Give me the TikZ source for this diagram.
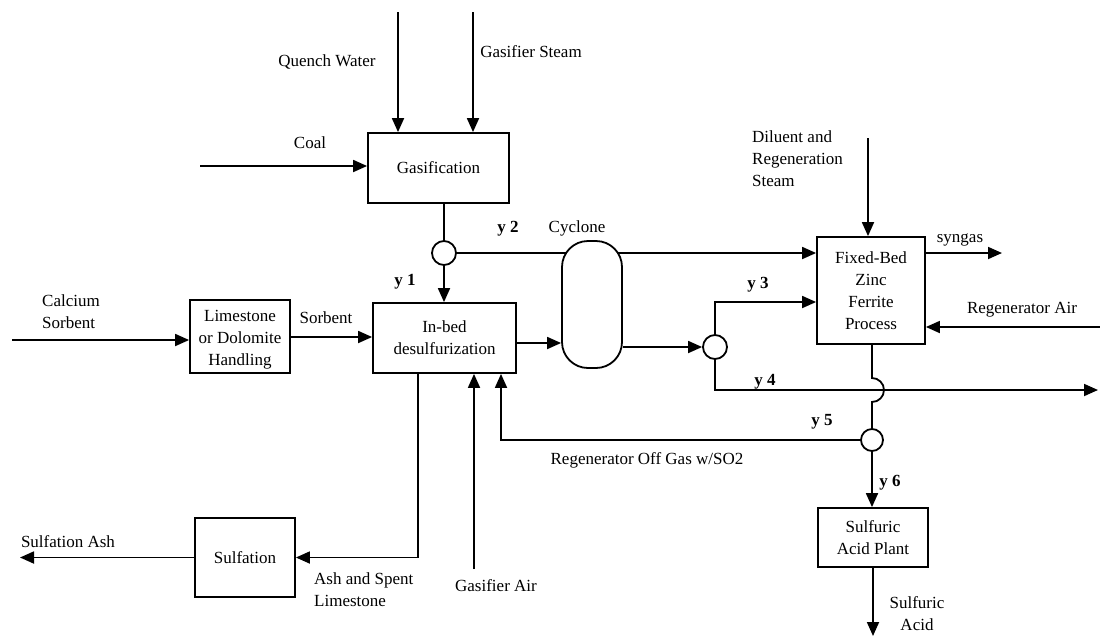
\documentclass[tikz,border=0pt]{standalone}
\usepackage{fontspec}
\setmainfont{Liberation Serif}
\usetikzlibrary{arrows.meta,backgrounds}
\begin{document}
\begin{tikzpicture}[x=1pt,y=-1pt,
  font=\fontsize{17}{22}\selectfont,
  box/.style={draw,line width=1.8pt,fill=white,inner sep=0pt,align=center},
  junc/.style={draw,circle,line width=1.8pt,fill=white,inner sep=0pt,minimum size=24pt},
  lbl/.style={inner sep=0pt,align=center},
  lbll/.style={inner sep=0pt,align=left},
  yl/.style={inner sep=0pt,font=\fontsize{17}{22}\selectfont\bfseries},
  flow/.style={line width=1.8pt},
  arr/.style={line width=1.8pt,-{Triangle[length=14pt,width=12pt]}}]
\useasboundingbox (0,0) rectangle (1100,638);

% boxes
\node[box,minimum width=141pt,minimum height=70pt] (gas) at (438.5,168) {Gasification};
\node[box,minimum width=143pt,minimum height=70pt] (inbed) at (444.5,338) {In-bed\\desulfurization};
\node[box,minimum width=100pt,minimum height=73pt] (lime) at (240,336.5) {};
\node[lbl] (limet) at (240,340) {Limestone\\or Dolomite\\Handling};
\node[box,minimum width=100pt,minimum height=79pt] (sulf) at (245,557.5) {Sulfation};
\node[box,minimum width=108pt,minimum height=107pt] (fb) at (871,290.5) {Fixed-Bed\\Zinc\\Ferrite\\Process};
\node[box,minimum width=110pt,minimum height=59pt] (sap) at (873,537.5) {Sulfuric\\Acid Plant};
\node[box,minimum width=60pt,minimum height=127pt,rounded corners=26pt] (cyc) at (592,304.5) {};
\node[junc] (c2) at (444,253) {};
\node[junc] (c3) at (715,347) {};
\node[junc,minimum size=22pt] (c5) at (872,440) {};

% helper coordinates
\coordinate (qw) at (398,12);
\coordinate (gs) at (473,12);
\coordinate (coal) at (200,166);
\coordinate (ca) at (12,340);
\coordinate (ga) at (474,569);
\coordinate (ash) at (418,0);
\coordinate (rg) at (501,0);
\coordinate (sa) at (20,0);
\coordinate (dil) at (868,138);
\coordinate (syn) at (1002,253);
\coordinate (ra) at (1100,327);
\coordinate (y4end) at (1098,390);
\coordinate (sacid) at (873,636);

% connectors
\draw[arr] (qw) -- (qw |- gas.north);
\draw[arr] (gs) -- (gs |- gas.north);
\draw[arr] (coal) -- (coal -| gas.west);
\draw[flow] (gas.south -| c2) -- (c2.north);
\draw[arr] (c2.south) -- (c2.south |- inbed.north);
\begin{scope}[on background layer]
\draw[arr] (c2.east) -- (c2.east -| fb.west);
\end{scope}
\draw[arr] (ca) -- (ca -| lime.west);
\draw[arr] (lime.east |- 0,337) -- (inbed.west |- 0,337);
\draw[arr] (inbed.east |- 0,343) -- (cyc.west |- 0,343);
\draw[arr] (cyc.east |- c3) -- (c3.west);
\draw[arr] (c3.north) |- (fb.west |- 0,302);
\draw[arr] (c3.south) |- (y4end);
\draw[flow] (fb.south -| c5) -- (872,378) arc(-90:90:12) -- (c5.north);
\draw[arr] (c5.west) -| (inbed.south -| rg);
\draw[arr] (ga) -- (ga |- inbed.south);
\draw[arr] (inbed.south -| ash) |- (sulf.east);
\draw[arr] (sulf.west) -- (sulf.west -| sa);
\draw[arr] (c5.south) -- (c5.south |- sap.north);
\draw[arr] (sap.south) -- (sacid);
\draw[arr] (dil) -- (dil |- fb.north);
\draw[arr] (fb.east |- syn) -- (syn);
\draw[arr] (ra) -- (ra -| fb.east);

% labels
\node[lbl] (lqw) at (327,62) {Quench Water};
\node[lbl] (lgs) at (531,52) {Gasifier Steam};
\node[lbl] (lcoal) at (310,143) {Coal};
\node[yl] (ly2) at (508,229) {y 2};
\node[lbl] (lcyc) at (577,228) {Cyclone};
\node[yl] (ly1) at (405,282) {y 1};
\node[lbll,anchor=west] (lca) at (42,312) {Calcium\\Sorbent};
\node[lbl] (lsorb) at (326,318) {Sorbent};
\node[yl] (ly3) at (758,285) {y 3};
\node[yl] (ly4) at (765,382) {y 4};
\node[yl] (ly5) at (822,422) {y 5};
\node[yl] (ly6) at (890,483) {y 6};
\node[lbl] (lsyn) at (960,240) {syngas};
\node[lbl] (lra) at (1022,310) {Regenerator Air};
\node[lbll,anchor=west] (ldil) at (752,159) {Diluent and\\Regeneration\\Steam};
\node[lbl] (lrog) at (647,460) {Regenerator Off Gas w/SO2};
\node[lbll,anchor=west] (lash) at (314,590) {Ash and Spent\\Limestone};
\node[lbl] (lga) at (496,586) {Gasifier Air};
\node[lbl] (lsa) at (68,542) {Sulfation Ash};
\node[lbl] (lsac) at (917,614) {Sulfuric\\Acid};
\end{tikzpicture}
\end{document}
